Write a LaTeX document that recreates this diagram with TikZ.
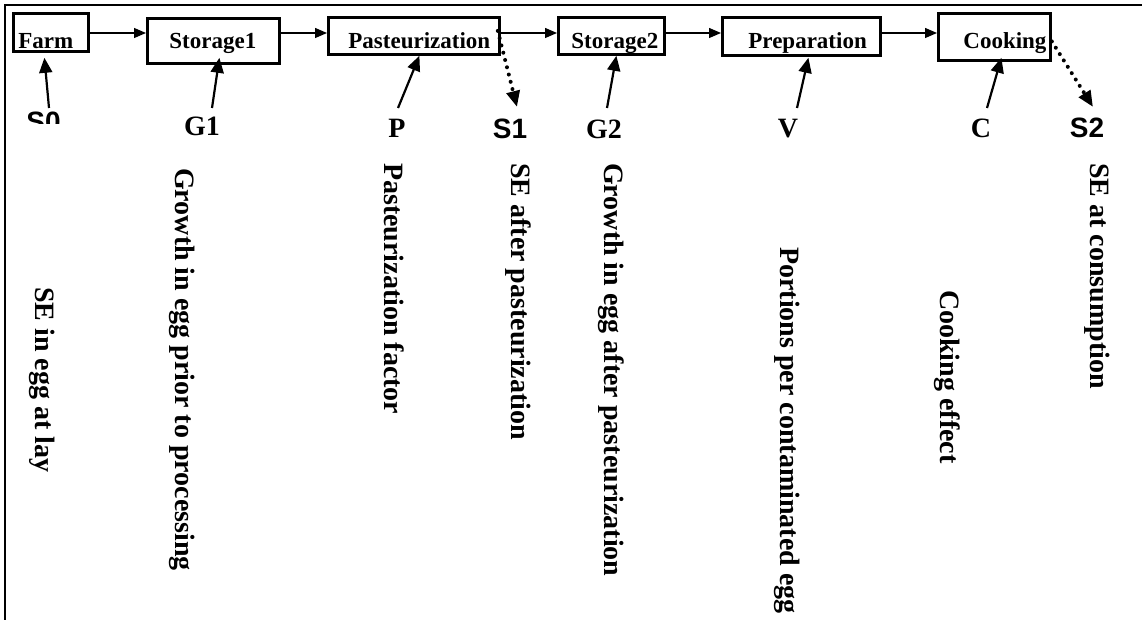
\documentclass[tikz,border=0pt]{standalone}
\usepackage{fontspec}
\setmainfont{Liberation Serif}
\newfontfamily\arialf{Liberation Sans}
\usetikzlibrary{arrows.meta}
\tikzset{
  box/.style={draw, line width=2.8pt, inner sep=0pt, anchor=north west, align=left,
    font=\bfseries\fontsize{23}{23}\selectfont, text depth=0pt},
  lbl/.style={anchor=base, inner sep=0pt, font=\bfseries\fontsize{28}{28}\selectfont},
  albl/.style={anchor=base, inner sep=0pt, font=\arialf\bfseries\fontsize{28}{28}\selectfont},
  rot/.style={rotate=-90, anchor=west, inner sep=0pt, font=\bfseries\fontsize{28}{28}\selectfont},
  carr/.style={line width=1.3pt, -{Triangle[length=12pt,width=10pt]}},
  larr/.style={line width=2.2pt, -{Triangle[length=15pt,width=13pt]}},
  darr/.style={line width=4pt, dash pattern=on 0pt off 7.5pt, line cap=round,
    -{Triangle[length=16pt,width=13pt]}},
  frame/.style={line width=2pt}
}
\begin{document}
\begin{tikzpicture}[x=1pt, y=-1pt]
\useasboundingbox (0,0) rectangle (1142,620);
\draw[frame] (5,620) -- (5,5) -- (1142,5);

% process boxes
\node[box, minimum height=38pt, text width=75pt, text height=32pt] (farm) at (12,12) {\hspace*{5pt}Farm};
\node[box, minimum height=45pt, text width=132pt, text height=15pt] (st1) at (146,17) {\hspace*{22pt}Storage1};
\node[box, minimum height=37pt, text width=171pt, text height=25pt] (past) at (327,16) {\hspace*{20pt}Pasteurization};
\node[box, minimum height=37pt, text width=106pt, text height=25pt] (st2) at (557,16) {\hspace*{13pt}Storage2};
\node[box, minimum height=38pt, text width=158pt, text height=24pt] (prep) at (721,16) {\hspace*{26pt}Preparation};
\node[box, minimum height=47pt, text width=112pt, text height=23pt] (cook) at (937,12) {\hspace*{25pt}Cooking};

\coordinate (row) at (0,33);
\draw[carr] (farm.east |- row) -- (st1.west |- row);
\draw[carr] (st1.east |- row) -- (past.west |- row);
\draw[carr] (past.east |- row) -- (st2.west |- row);
\draw[carr] (st2.east |- row) -- (prep.west |- row);
\draw[carr] (prep.east |- row) -- (cook.west |- row);

% parameter labels
\begin{scope}
\clip (15,90) rectangle (80,124);
\node[albl] (S0) at (43.5,132) {S0};
\end{scope}
\node[lbl] (G1) at (202,136) {G1};
\node[lbl] (P) at (397,138) {P};
\node[albl] (S1) at (510,139) {S1};
\node[lbl] (G2) at (604,139) {G2};
\node[lbl] (V) at (788,138) {V};
\node[lbl] (C) at (981,138) {C};
\node[albl] (S2) at (1087,138) {S2};

\draw[larr] ([shift={(5.5,-24)}]S0.base) -- ([shift={(-6.5,5)}]farm.south);
\draw[larr] ([shift={(10,-28)}]G1.base) -- ([shift={(6,-7)}]st1.south);
\draw[larr] ([shift={(1,-30)}]P.base) -- ([shift={(5.5,0)}]past.south);
\draw[larr] ([shift={(3,-31)}]G2.base) -- ([shift={(5,0)}]st2.south);
\draw[larr] ([shift={(9,-30)}]V.base) -- ([shift={(7,1)}]prep.south);
\draw[larr] ([shift={(6,-30)}]C.base) -- ([shift={(7,-4)}]cook.south);

\draw[darr] ([shift={(-3,-5)}]past.east) -- ([shift={(7,-32)}]S1.base);
\draw[darr] ([shift={(0,4.5)}]cook.east) -- ([shift={(6,-31)}]S2.base);

% descriptions
\node[rot] (t0) at (42,287) {SE in egg at lay};
\node[rot] (t1) at (182,168) {Growth in egg prior to processing};
\node[rot] (t2) at (394,163) {Pasteurization factor};
\node[rot] (t3) at (518,163) {SE after pasteurization};
\node[rot] (t4) at (611,163) {Growth in egg after pasteurization};
\node[rot] (t5) at (787,247) {Portions per contaminated egg};
\node[rot] (t6) at (947,290) {Cooking effect};
\node[rot] (t7) at (1097,163) {SE at consumption};
\end{tikzpicture}
\end{document}
